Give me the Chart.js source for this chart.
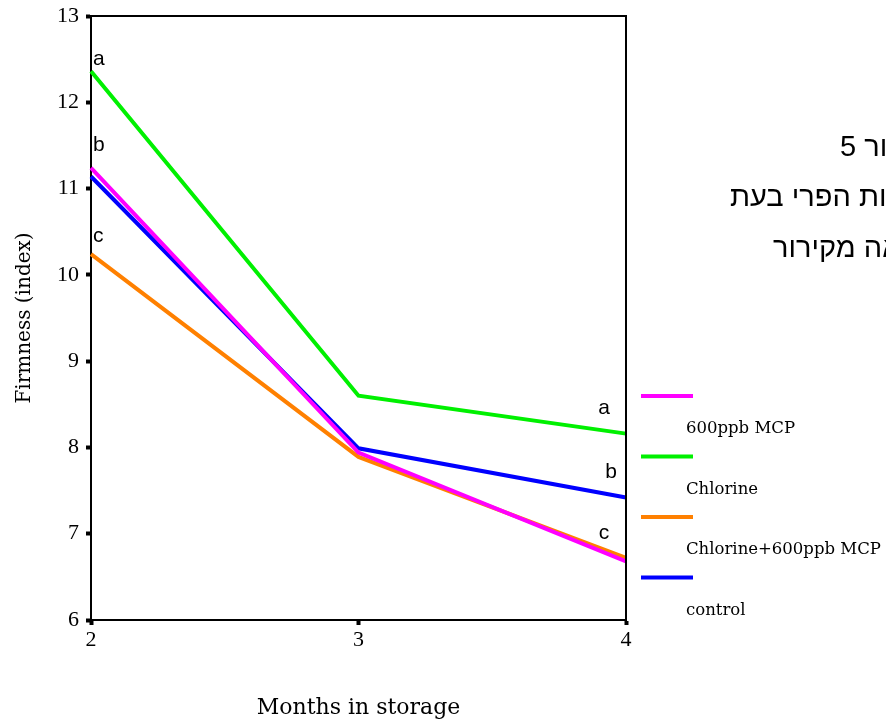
<!DOCTYPE html>
<html>
<head>
<meta charset="utf-8">
<script src="https://cdn.jsdelivr.net/npm/chart.js@4.4.0/dist/chart.umd.min.js"></script>
<style>
html, body { margin: 0; padding: 0; background: #fff; }
#wrap { width: 886px; height: 721px; position: relative; }
</style>
</head>
<body>
<div id="wrap"><canvas id="firmnessChart"></canvas></div>
<script>
// months in storage (x categories)
const months = ['2', '3', '4'];
const seriesNames = ['600ppb MCP', 'Chlorine', 'Chlorine+600ppb MCP', 'control'];
const seriesColors = ['#ff00ff', '#00f000', '#ff8000', '#0000ff'];

// firmness index
const mcpValues      = [11.24, 7.94, 6.68];
const chlorineValues = [12.36, 8.60, 8.16];
const comboValues    = [10.24, 7.89, 6.72];
const controlValues  = [11.14, 7.99, 7.42];

const yMin = 6;
const yMax = 13;

// significance letters, at month 2 and month 4
const startLetters = ['a', 'b', 'c'];
const startLetterY = [12.43, 11.44, 10.38];
const endLetters   = ['a', 'b', 'c'];
const endLetterY   = [8.39, 7.64, 6.94];

const captionLines = ['איור 5', 'קשיות הפרי בעת', 'הוצאה מקירור'];

const serif = "'DejaVu Serif', 'Liberation Serif', serif";
const tickSerif = "'Liberation Serif', 'DejaVu Serif', serif";
const sans = "'Liberation Sans', Arial, 'DejaVu Sans', sans-serif";

const extras = {
    id: 'extras',
    afterDraw(chart) {
        const ctx = chart.ctx;
        const area = chart.chartArea;
        const xs = chart.scales.x;
        const ys = chart.scales.y;
        ctx.save();

        // top and right frame
        ctx.strokeStyle = '#000';
        ctx.lineWidth = 2;
        ctx.beginPath();
        ctx.moveTo(area.left, area.top);
        ctx.lineTo(area.right, area.top);
        ctx.lineTo(area.right, area.bottom);
        ctx.stroke();

        // letters
        ctx.fillStyle = '#000';
        ctx.font = '21px ' + sans;
        ctx.textBaseline = 'alphabetic';
        ctx.textAlign = 'left';
        const x0 = xs.getPixelForValue(0);
        startLetters.forEach((l, i) => {
            ctx.fillText(l, x0 + 2, ys.getPixelForValue(startLetterY[i]));
        });
        ctx.textAlign = 'center';
        const x2 = xs.getPixelForValue(2);
        const endShift = [-22, -15, -22];
        endLetters.forEach((l, i) => {
            ctx.fillText(l, x2 + endShift[i], ys.getPixelForValue(endLetterY[i]));
        });

        // legend: swatch with label below it
        ctx.textAlign = 'left';
        ctx.font = '16.5px ' + serif;
        chart.data.datasets.forEach((ds, i) => {
            const sy = 396 + i * 60.5;
            ctx.strokeStyle = ds.borderColor;
            ctx.lineWidth = 4;
            ctx.beginPath();
            ctx.moveTo(area.right + 15, sy);
            ctx.lineTo(area.right + 67, sy);
            ctx.stroke();
            ctx.fillStyle = '#000';
            ctx.fillText(ds.label, area.right + 60, sy + 37);
        });

        // hebrew caption, cut off at the right edge
        ctx.direction = 'rtl';
        ctx.textAlign = 'left';
        ctx.font = '29px ' + sans;
        const capX = [840, 730, 773];
        const capY = [156, 206, 257];
        captionLines.forEach((t, i) => {
            ctx.fillText(t, capX[i], capY[i]);
        });
        ctx.restore();
    }
};

new Chart(document.getElementById('firmnessChart'), {
    type: 'line',
    data: {
        labels: months,
        datasets: [
            { label: seriesNames[0], data: mcpValues,      borderColor: seriesColors[0] },
            { label: seriesNames[1], data: chlorineValues, borderColor: seriesColors[1] },
            { label: seriesNames[2], data: comboValues,    borderColor: seriesColors[2] },
            { label: seriesNames[3], data: controlValues,  borderColor: seriesColors[3] }
        ].map(d => Object.assign(d, {
            borderWidth: 4,
            pointRadius: 0,
            pointHoverRadius: 0,
            tension: 0,
            fill: false
        }))
    },
    options: {
        responsive: true,
        maintainAspectRatio: false,
        animation: false,
        events: [],
        layout: { padding: { top: 16, right: 260, left: 0, bottom: 0 } },
        plugins: {
            legend: { display: false },
            tooltip: { enabled: false }
        },
        scales: {
            x: {
                type: 'category',
                offset: false,
                afterFit(scale) {
                    scale.height = 101;
                    scale.paddingLeft = 0;
                    scale.paddingRight = 0;
                },
                border: { color: '#000', width: 2 },
                grid: {
                    display: true,
                    drawOnChartArea: false,
                    tickLength: 5,
                    tickWidth: 4,
                    tickColor: '#000'
                },
                ticks: {
                    color: '#000',
                    font: { family: tickSerif, size: 22 },
                    padding: 2,
                    maxRotation: 0
                },
                title: {
                    display: true,
                    text: 'Months in storage',
                    color: '#000',
                    font: { family: serif, size: 22 },
                    padding: { top: 0, bottom: 0 }
                }
            },
            y: {
                min: yMin,
                max: yMax,
                afterFit(scale) {
                    scale.width = 91;
                    scale.paddingTop = 0;
                    scale.paddingBottom = 0;
                },
                border: { color: '#000', width: 2 },
                grid: {
                    display: true,
                    drawOnChartArea: false,
                    tickLength: 5,
                    tickWidth: 4,
                    tickColor: '#000'
                },
                ticks: {
                    stepSize: 1,
                    color: '#000',
                    font: { family: tickSerif, size: 22 },
                    padding: 7
                },
                title: {
                    display: true,
                    text: 'Firmness (index)',
                    color: '#000',
                    font: { family: serif, size: 20 },
                    padding: { top: 13, bottom: 0 }
                }
            }
        }
    },
    plugins: [extras]
});
</script>
</body>
</html>
